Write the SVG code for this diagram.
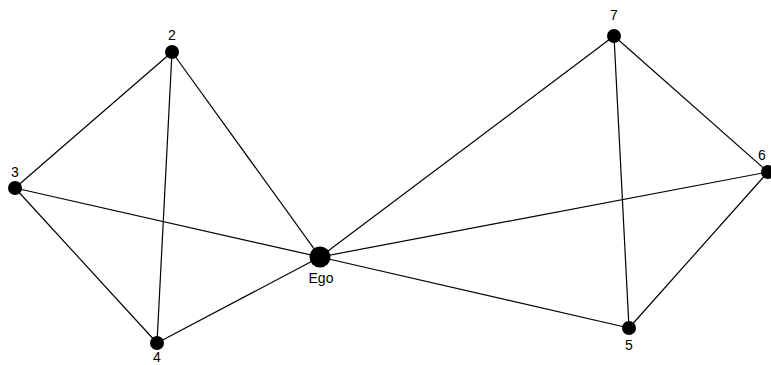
<svg xmlns="http://www.w3.org/2000/svg" width="771" height="365" viewBox="0 0 771 365">
<style>
.e{stroke:#000;stroke-width:1.2;fill:none}
.n{fill:#000}
.t{font-family:"Liberation Sans",Arial,sans-serif;font-size:14px;fill:#000;text-anchor:middle}
</style>
<rect width="771" height="365" fill="#fff"/>
<g id="edges">
<line class="e" x1="172" y1="52" x2="15" y2="188"/>
<line class="e" x1="172" y1="52" x2="157" y2="343"/>
<line class="e" x1="172" y1="52" x2="320" y2="257"/>
<line class="e" x1="15" y1="188" x2="157" y2="343"/>
<line class="e" x1="15" y1="188" x2="320" y2="257"/>
<line class="e" x1="157" y1="343" x2="320" y2="257"/>
<line class="e" x1="614" y1="36" x2="320" y2="257"/>
<line class="e" x1="614" y1="36" x2="768" y2="172"/>
<line class="e" x1="614" y1="36" x2="629" y2="328"/>
<line class="e" x1="768" y1="172" x2="320" y2="257"/>
<line class="e" x1="768" y1="172" x2="629" y2="328"/>
<line class="e" x1="629" y1="328" x2="320" y2="257"/>
</g>
<g id="node-2"><circle class="n" cx="172" cy="52" r="7"/><text class="t" x="172" y="40">2</text></g>
<g id="node-3"><circle class="n" cx="15" cy="188" r="7"/><text class="t" x="15" y="177">3</text></g>
<g id="node-4"><circle class="n" cx="157" cy="343" r="7"/><text class="t" x="157" y="362">4</text></g>
<g id="node-ego"><circle class="n" cx="320" cy="257" r="10.5"/><text class="t" x="321" y="283">Ego</text></g>
<g id="node-7"><circle class="n" cx="614" cy="36" r="7"/><text class="t" x="614" y="20">7</text></g>
<g id="node-6"><circle class="n" cx="768" cy="172" r="7"/><text class="t" x="762" y="160">6</text></g>
<g id="node-5"><circle class="n" cx="629" cy="328" r="7"/><text class="t" x="629" y="350">5</text></g>
</svg>
